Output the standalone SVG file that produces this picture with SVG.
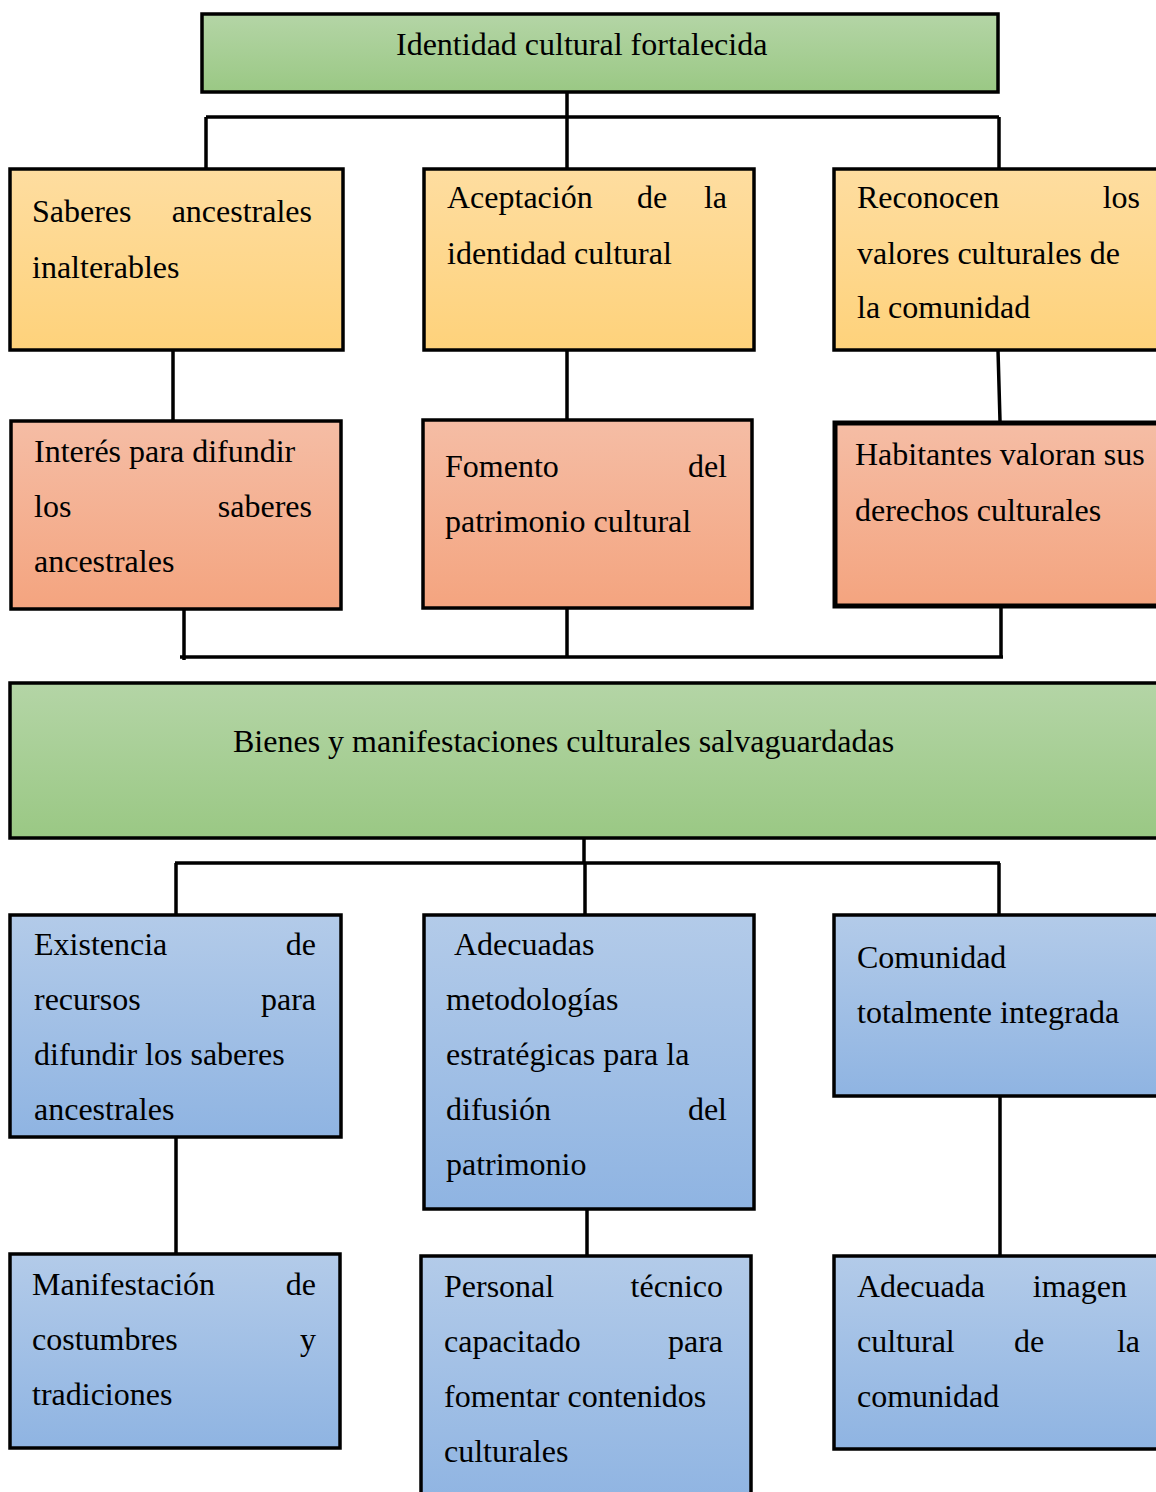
<svg xmlns="http://www.w3.org/2000/svg" width="1156" height="1492" viewBox="0 0 1156 1492">
<defs>
<linearGradient id="gGreen" x1="0" y1="0" x2="0" y2="1"><stop offset="0" stop-color="#b4d5a6"/><stop offset="1" stop-color="#9ac884"/></linearGradient>
<linearGradient id="gYellow" x1="0" y1="0" x2="0" y2="1"><stop offset="0" stop-color="#fedda0"/><stop offset="1" stop-color="#fed27b"/></linearGradient>
<linearGradient id="gSalmon" x1="0" y1="0" x2="0" y2="1"><stop offset="0" stop-color="#f5bda5"/><stop offset="1" stop-color="#f4a47f"/></linearGradient>
<linearGradient id="gBlue" x1="0" y1="0" x2="0" y2="1"><stop offset="0" stop-color="#b3cbe9"/><stop offset="1" stop-color="#8fb4e2"/></linearGradient>
<style>
rect{stroke:#000;stroke-width:3.5}
.green{fill:url(#gGreen)}
.yellow{fill:url(#gYellow)}
.salmon{fill:url(#gSalmon)}
.blue{fill:url(#gBlue)}
text{font-family:"Liberation Serif","Times New Roman",serif;font-size:32px;fill:#000}
.e{text-anchor:end}
#connectors path{fill:none;stroke:#000;stroke-width:3.5}
</style>
</defs>
<g id="connectors">
<path d="M567 92V168M206 117H999M206 117V168M999 117V168"/>
<path d="M173 350V421M567 350V421M998 350L1000 421"/>
<path d="M184 609V660M567 608V657M1001 608V657M180 657H1003"/>
<path d="M584 838V863M175 863H1000M176 863V915M585 863V915M999 863V915"/>
<path d="M176 1137V1254M587 1209V1256M1000 1096V1256"/>
</g>
<g id="n-top"><rect class="green" x="202" y="14" width="796" height="78"/><text x="396" y="55">Identidad cultural fortalecida</text></g>
<g id="n-saberes"><rect class="yellow" x="10" y="169" width="333" height="181"/><text x="32" y="222">Saberes</text><text class="e" x="312" y="222">ancestrales</text><text x="32" y="278">inalterables</text></g>
<g id="n-aceptacion"><rect class="yellow" x="424" y="169" width="330" height="181"/><text x="447" y="208">Aceptación</text><text x="637" y="208">de</text><text class="e" x="727" y="208">la</text><text x="447" y="264">identidad cultural</text></g>
<g id="n-reconocen"><rect class="yellow" x="834" y="169" width="340" height="181"/><text x="857" y="208">Reconocen</text><text class="e" x="1140" y="208">los</text><text x="857" y="264">valores culturales de</text><text x="857" y="318">la comunidad</text></g>
<g id="n-interes"><rect class="salmon" x="11" y="421" width="330" height="188"/><text x="34" y="462">Interés para difundir</text><text x="34" y="517">los</text><text class="e" x="312" y="517">saberes</text><text x="34" y="572">ancestrales</text></g>
<g id="n-fomento"><rect class="salmon" x="423" y="420" width="329" height="188"/><text x="445" y="477">Fomento</text><text class="e" x="727" y="477">del</text><text x="445" y="532">patrimonio cultural</text></g>
<g id="n-habitantes"><rect class="salmon" x="835" y="423" width="340" height="183" style="stroke-width:5"/><text x="855" y="465">Habitantes valoran sus</text><text x="855" y="521">derechos culturales</text></g>
<g id="n-bienes"><rect class="green" x="10" y="683" width="1165" height="155"/><text x="233" y="752">Bienes y manifestaciones culturales salvaguardadas</text></g>
<g id="n-existencia"><rect class="blue" x="10" y="915" width="331" height="222"/><text x="34" y="955">Existencia</text><text class="e" x="316" y="955">de</text><text x="34" y="1010">recursos</text><text class="e" x="316" y="1010">para</text><text x="34" y="1065">difundir los saberes</text><text x="34" y="1120">ancestrales</text></g>
<g id="n-adecuadas"><rect class="blue" x="424" y="915" width="330" height="294"/><text x="454" y="955">Adecuadas</text><text x="446" y="1010">metodologías</text><text x="446" y="1065">estratégicas para la</text><text x="446" y="1120">difusión</text><text class="e" x="727" y="1120">del</text><text x="446" y="1175">patrimonio</text></g>
<g id="n-comunidad"><rect class="blue" x="834" y="915" width="340" height="181"/><text x="857" y="968">Comunidad</text><text x="857" y="1023">totalmente integrada</text></g>
<g id="n-manifestacion"><rect class="blue" x="10" y="1254" width="330" height="194"/><text x="32" y="1295">Manifestación</text><text class="e" x="316" y="1295">de</text><text x="32" y="1350">costumbres</text><text class="e" x="316" y="1350">y</text><text x="32" y="1405">tradiciones</text></g>
<g id="n-personal"><rect class="blue" x="421" y="1256" width="330" height="250"/><text x="444" y="1297">Personal</text><text class="e" x="723" y="1297">técnico</text><text x="444" y="1352">capacitado</text><text class="e" x="723" y="1352">para</text><text x="444" y="1407">fomentar contenidos</text><text x="444" y="1462">culturales</text></g>
<g id="n-imagen"><rect class="blue" x="834" y="1256" width="340" height="193"/><text x="857" y="1297">Adecuada</text><text class="e" x="1127" y="1297">imagen</text><text x="857" y="1352">cultural</text><text x="1014" y="1352">de</text><text class="e" x="1140" y="1352">la</text><text x="857" y="1407">comunidad</text></g>
</svg>
